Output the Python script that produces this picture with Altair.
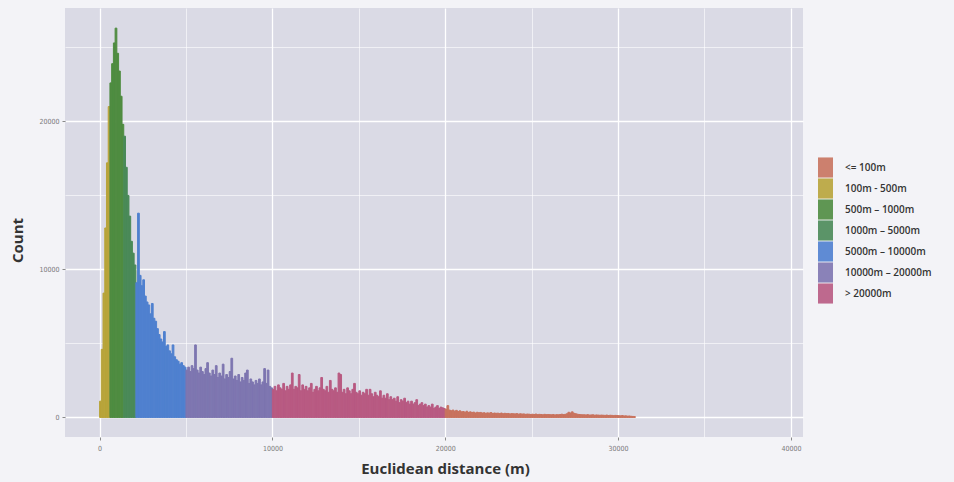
import altair as alt
import pandas as pd

# ---- data (100 m histogram bins, counts) ----
BIN_WIDTH = 100

seg_olive = [1100, 4600, 8400, 12800, 17200, 21000]                       # from 0 m
seg_green = [22600, 23900, 25300, 26300, 24600, 23400, 21700, 19800]        # from 600 m
seg_teal = [19000, 16900, 15000, 13600, 11900, 11100, 10300]                # from 1400 m
seg_blue = [9100, 13800, 9600, 8900, 9300, 8200, 7800, 7600, 7000, 7700,
            6700, 6500, 6000, 5600, 5300, 5100, 5800, 4800, 4900, 4500,
            4300, 4900, 4100, 3900, 3800, 3600, 3700, 3500, 3400]            # from 2100 m
seg_purple = [3200, 3400, 3100, 3500, 3300, 4900, 3200, 3000, 3400, 3100,
              2900, 3300, 3700, 3000, 2800, 3200, 2900, 3500, 2700, 3000,
              2800, 3600, 2600, 2900, 2700, 3100, 4000, 2600, 2800, 2500,
              2900, 2400, 2700, 2500, 3000, 3200, 2300, 2600, 2400, 2200,
              2500, 2300, 2600, 2200, 2400, 3300, 2300, 3200, 2100, 2000]    # from 5000 m
seg_pink = [1900, 2100, 1800, 2200, 2000, 1900, 2300, 1800, 2100, 1900,
            2200, 3000, 1900, 2100, 2000, 2900, 1800, 2200, 1900, 2100,
            1800, 2000, 2300, 1700, 1900, 2100, 1800, 2000, 2700, 1900,
            1800, 2100, 1700, 2500, 1900, 1800, 2000, 1700, 3000, 2900,
            1700, 1900, 1600, 2000, 1800, 1600, 1900, 2300, 1700, 1600,
            1800, 1500, 1700, 1600, 1900, 1500, 1900, 1600, 1400, 1700,
            1500, 1400, 1800, 1300, 1500, 1300, 1600, 1200, 1400, 1200,
            1300, 1100, 1400, 1000, 1200, 1100, 1300, 1000, 1100, 900,
            1100, 900, 1000, 1200, 800, 900, 1000, 800, 900, 700,
            800, 700, 900, 600, 700, 800, 600, 700, 650, 600]               # from 10000 m
seg_tail = [550, 800, 500, 450, 500, 420, 480, 400, 450, 380,
            400, 350, 420, 330, 380, 340, 360, 300, 350, 320,
            340, 300, 320, 280, 310, 290, 330, 270, 300, 280,
            290, 260, 300, 250, 280, 260, 270, 240, 260, 250,
            240, 260, 220, 250, 230, 240, 210, 230, 220, 200,
            220, 200, 230, 190, 210, 200, 180, 210, 190, 200,
            190, 180, 200, 170, 190, 180, 200, 220, 190, 210,
            250, 350, 300, 380, 280, 250, 220, 200, 190, 180,
            180, 170, 190, 160, 170, 180, 150, 170, 160, 150,
            160, 150, 140, 160, 130, 150, 140, 120, 140, 130,
            120, 110, 130, 100, 110, 90, 100, 80, 70, 60]                    # from 20000 m

classes = ["<= 100m", "100m - 500m", "500m \u2013 1000m", "1000m \u2013 5000m",
           "5000m \u2013 10000m", "10000m \u2013 20000m", "> 20000m"]
class_colors = ["#c8735e", "#b8a43a", "#4f8c40", "#4a8a58",
                "#4f80cf", "#7e76b0", "#b85a82"]

# segment: (start in m, counts, class as coloured in the picture)
segments = [
    (0, seg_olive, classes[1]),
    (600, seg_green, classes[2]),
    (1400, seg_teal, classes[3]),
    (2100, seg_blue, classes[4]),
    (5000, seg_purple, classes[5]),
    (10000, seg_pink, classes[6]),
    (20000, seg_tail, classes[0]),
]

rows = []
for start, counts, cls in segments:
    for i, c in enumerate(counts):
        s = start + i * BIN_WIDTH
        rows.append({"start": s, "end": s + BIN_WIDTH, "count": c, "cls": cls})
df = pd.DataFrame(rows)

x_ticks = [0, 5000, 10000, 15000, 20000, 25000, 30000, 35000, 40000]
y_ticks = [0, 5000, 10000, 15000, 20000, 25000]

minor_grid = {"condition": {"test": "datum.value % 10000 !== 0", "value": 0.6}, "value": 1.3}
minor_tick = {"condition": {"test": "datum.value % 10000 !== 0", "value": 0}, "value": 1}
label_expr = "datum.value % 10000 === 0 ? format(datum.value, 'd') : ''"

x_axis = alt.Axis(values=x_ticks, title="Euclidean distance (m)", labelExpr=label_expr,
                  grid=True, gridColor="#ffffff", gridWidth=minor_grid,
                  tickOpacity=minor_tick, tickColor="#8a8a8a", tickSize=3,
                  domain=False, labelFontSize=7, labelColor="#7a7a7a",
                  labelFont="DejaVu Sans Condensed", labelPadding=4,
                  titleFontSize=15, titleFont="Open Sans", titleFontWeight=700,
                  titleColor="#333333", titleX=380, titleY=36,
                  titleBaseline="alphabetic")
y_axis = alt.Axis(values=y_ticks, title="Count", labelExpr=label_expr,
                  grid=True, gridColor="#ffffff", gridWidth=minor_grid,
                  tickOpacity=minor_tick, tickColor="#8a8a8a", tickSize=3,
                  domain=False, labelFontSize=7, labelColor="#7a7a7a",
                  labelFont="DejaVu Sans Condensed", labelPadding=3,
                  titleFontSize=15, titleFont="Open Sans", titleFontWeight=700,
                  titleColor="#333333", titleX=-40, titleY=232)

color_scale = alt.Scale(domain=classes, range=class_colors)

chart = alt.Chart(df).mark_bar(strokeWidth=1.0, opacity=1).encode(
    x=alt.X("start:Q", scale=alt.Scale(domain=[-2000, 40700], nice=False, zero=False),
            axis=x_axis),
    x2="end:Q",
    y=alt.Y("count:Q", scale=alt.Scale(domain=[-1320, 27660], nice=False, zero=False),
            axis=y_axis),
    y2=alt.datum(0),
    stroke=alt.Stroke("cls:N", scale=color_scale, legend=None),
    color=alt.Color("cls:N", scale=color_scale,
                    legend=alt.Legend(title=None, orient="none", legendX=753, legendY=152,
                                      symbolType="M-1,-1.34H1V1.34H-1Z", symbolSize=225,
                                      symbolStrokeWidth=0, symbolOpacity=0.9,
                                      rowPadding=0, labelOffset=12, labelFontSize=10,
                                      labelFont="Open Sans", labelFontWeight=600,
                                      labelColor="#333333", padding=0)),
).properties(
    width=738, height=429,
    padding={"left": 65, "top": 8, "right": 151, "bottom": 45},
    autosize=alt.AutoSizeParams(type="none"),
    background="#f3f3f7",
).configure_view(fill="#dadae5", stroke=None)

chart.save("out.html", embed_options={"renderer": "svg", "actions": False})
